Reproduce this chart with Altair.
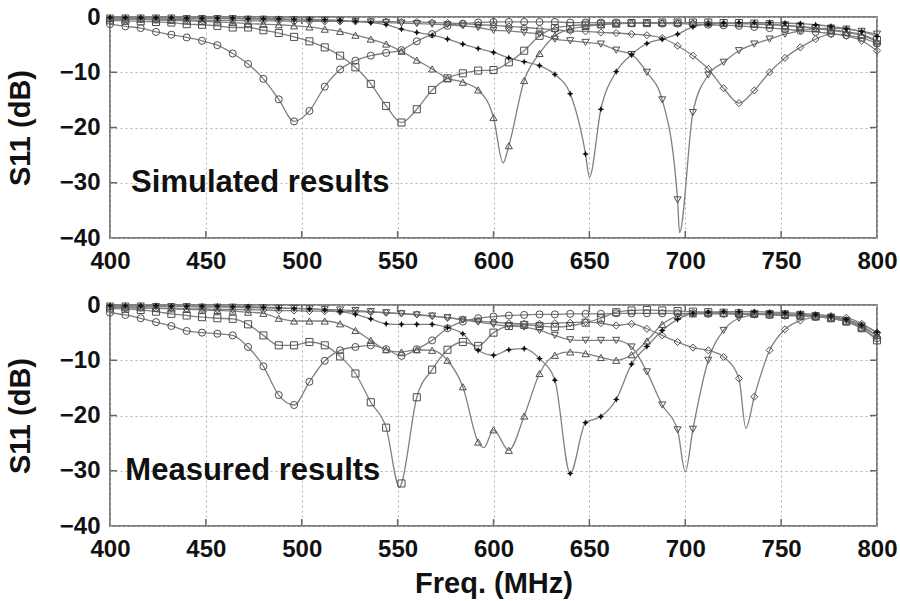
import altair as alt
import pandas as pd

# Marker frequencies (MHz)
FREQ = [400, 408, 416, 424, 432, 440, 448, 456, 464, 472,
        480, 488, 496, 504, 512, 520, 528, 536, 544, 552,
        560, 568, 576, 584, 592, 600, 608, 616, 624, 632,
        640, 648, 656, 664, 672, 680, 688, 696, 704, 712,
        720, 728, 736, 744, 752, 760, 768, 776, 784, 792, 800]

X_TICKS = [400, 450, 500, 550, 600, 650, 700, 750, 800]
Y_TICKS = [-40, -30, -20, -10, 0]

SERIES = ["circle", "square", "tri_up", "star", "tri_down", "diamond"]

# ---------- Simulated ----------
SIM_CIRCLE = [-1.3, -1.7, -2.0, -2.7, -3.2, -3.7, -4.3, -5.1, -6.6, -8.5,
              -11.2, -14.9, -18.9, -17.0, -12.6, -9.5, -7.9, -7.0, -6.5, -6.0,
              -4.4, -3.1, -1.6, -1.2, -1.0, -0.9, -0.9, -0.9, -0.9, -0.9,
              -1.0, -1.0, -1.0, -1.0, -1.1, -1.1, -1.2, -1.2, -1.3, -1.4,
              -1.5, -1.6, -1.8, -2.0, -2.2, -2.5, -2.7, -3.0, -3.3, -3.8, -4.8]
SIM_SQUARE = [-0.6, -0.7, -0.8, -0.9, -1.0, -1.3, -1.4, -1.6, -1.9, -1.9,
              -2.4, -2.9, -3.6, -4.4, -5.5, -7.0, -9.1, -12.1, -16.1, -19.1,
              -16.7, -13.2, -11.1, -10.2, -9.7, -9.6, -8.2, -6.1, -3.4, -2.0,
              -1.6, -1.4, -1.3, -1.2, -1.1, -1.1, -1.0, -1.0, -1.0, -1.0,
              -1.1, -1.1, -1.2, -1.3, -1.5, -1.7, -2.0, -2.3, -2.7, -3.2, -4.2]
SIM_TRI_UP = [-0.3, -0.4, -0.4, -0.5, -0.6, -0.7, -0.8, -0.9, -1.0, -1.2,
              -1.3, -1.4, -1.6, -1.8, -2.2, -2.6, -3.3, -4.0, -4.9, -6.2,
              -7.8, -9.4, -11.1, -11.8, -13.2, -18.2, -23.3, -11.5, -6.6, -3.4,
              -2.2, -1.7, -1.4, -1.2, -1.1, -1.0, -1.0, -1.0, -1.0, -1.0,
              -1.1, -1.2, -1.3, -1.4, -1.6, -1.8, -2.1, -2.4, -2.8, -3.3, -4.5]
SIM_STAR = [-0.1, -0.1, -0.1, -0.1, -0.1, -0.2, -0.2, -0.2, -0.2, -0.3,
            -0.3, -0.3, -0.4, -0.4, -0.5, -0.6, -0.8, -1.0, -1.4, -2.2,
            -2.8, -3.3, -4.0, -4.9, -5.7, -6.4, -7.4, -8.1, -8.8, -10.4,
            -13.9, -24.8, -16.7, -9.9, -6.8, -4.8, -4.0, -3.1, -1.8, -1.3,
            -1.1, -1.0, -1.0, -1.0, -1.1, -1.2, -1.4, -1.7, -2.1, -2.6, -3.5]
SIM_TRI_DOWN = [-0.2, -0.2, -0.2, -0.2, -0.2, -0.3, -0.3, -0.3, -0.3, -0.4,
                -0.4, -0.5, -0.5, -0.6, -0.6, -0.7, -0.8, -0.9, -1.0, -1.1,
                -1.2, -1.3, -1.4, -1.6, -1.9, -2.4, -2.5, -2.8, -3.1, -4.0,
                -4.3, -4.6, -4.9, -6.0, -6.8, -10.0, -15.0, -33.1, -17.3, -10.5,
                -8.2, -6.1, -4.9, -4.0, -3.1, -2.5, -2.1, -2.0, -2.2, -2.6, -3.1]
SIM_DIAMOND = [-0.4, -0.4, -0.4, -0.5, -0.5, -0.5, -0.6, -0.6, -0.6, -0.7,
               -0.7, -0.7, -0.8, -0.8, -0.8, -0.8, -0.8, -0.8, -0.8, -0.9,
               -0.9, -1.0, -1.1, -1.2, -1.4, -1.5, -1.7, -1.9, -2.1, -2.3,
               -2.5, -2.6, -2.8, -2.9, -3.1, -3.3, -3.8, -5.2, -7.0, -9.4,
               -12.9, -15.6, -13.3, -10.0, -7.4, -5.5, -4.0, -3.1, -3.4, -4.3, -6.1]
# resonance minima between markers (line only): series, freq, dB
SIM_DIPS = [("tri_up", 605, -26.4), ("star", 650, -29.0), ("tri_down", 697, -39.0)]

# ---------- Measured ----------
MEAS_CIRCLE = [-1.4, -1.8, -2.4, -3.1, -3.8, -4.7, -5.0, -5.2, -5.5, -7.6,
               -11.1, -16.3, -18.1, -13.9, -10.1, -8.2, -7.6, -7.3, -8.0, -9.2,
               -8.0, -6.4, -4.2, -3.0, -2.4, -2.1, -1.9, -1.8, -1.7, -1.7,
               -1.6, -1.6, -1.6, -1.5, -1.5, -1.5, -1.5, -1.5, -1.5, -1.6,
               -1.6, -1.7, -1.7, -1.8, -1.9, -2.0, -2.1, -2.4, -3.0, -4.2, -6.0]
MEAS_SQUARE = [-0.6, -0.7, -0.9, -1.2, -1.6, -1.9, -2.2, -2.4, -2.5, -3.5,
               -5.5, -7.3, -7.3, -6.7, -7.3, -9.3, -12.4, -17.6, -22.2, -32.3,
               -16.7, -11.7, -8.1, -6.7, -7.4, -5.0, -3.8, -3.6, -3.8, -4.0,
               -3.8, -3.2, -2.4, -1.3, -1.0, -0.9, -1.0, -1.1, -1.2, -1.3,
               -1.4, -1.5, -1.6, -1.7, -1.8, -1.9, -2.1, -2.4, -3.0, -4.2, -6.4]
MEAS_TRI_UP = [-0.3, -0.4, -0.5, -0.6, -0.7, -0.8, -0.9, -1.0, -1.1, -1.3,
               -1.5, -2.4, -2.9, -2.9, -2.9, -3.4, -4.6, -6.4, -8.1, -8.5,
               -8.1, -8.2, -10.0, -14.8, -24.8, -22.6, -26.3, -20.1, -12.4, -9.1,
               -8.5, -8.8, -9.5, -10.0, -9.0, -6.5, -3.5, -2.0, -1.6, -1.5,
               -1.5, -1.5, -1.5, -1.6, -1.7, -1.8, -2.0, -2.3, -2.9, -4.0, -5.5]
MEAS_STAR = [-0.1, -0.1, -0.1, -0.1, -0.2, -0.2, -0.2, -0.2, -0.3, -0.3,
             -0.4, -0.5, -0.6, -0.7, -0.9, -1.2, -1.7, -2.5, -3.4, -3.5,
             -3.5, -3.5, -4.1, -5.2, -8.2, -9.1, -8.1, -7.9, -9.7, -13.6,
             -30.5, -21.3, -20.2, -17.1, -10.7, -7.5, -4.6, -2.6, -1.5, -1.3,
             -1.2, -1.2, -1.2, -1.3, -1.4, -1.5, -1.7, -2.0, -2.6, -3.6, -4.9]
MEAS_TRI_DOWN = [-0.2, -0.2, -0.2, -0.3, -0.3, -0.3, -0.4, -0.4, -0.4, -0.5,
                 -0.5, -0.6, -0.6, -0.7, -0.8, -0.9, -1.0, -1.2, -1.4, -1.6,
                 -1.8, -2.0, -2.3, -2.7, -3.1, -3.5, -3.8, -4.0, -4.6, -5.5,
                 -6.3, -6.4, -6.4, -6.4, -7.6, -12.1, -18.1, -22.6, -22.5, -10.0,
                 -4.6, -2.4, -1.8, -1.6, -1.6, -1.7, -1.9, -2.2, -2.8, -3.8, -5.5]
MEAS_DIAMOND = [-0.4, -0.5, -0.5, -0.6, -0.6, -0.7, -0.7, -0.8, -0.8, -0.9,
                -0.9, -1.0, -1.0, -1.1, -1.1, -1.2, -1.2, -1.3, -1.4, -1.5,
                -1.7, -2.0, -2.3, -2.6, -2.9, -3.1, -3.3, -3.4, -3.4, -3.3,
                -3.2, -3.1, -3.3, -3.7, -3.4, -4.3, -5.5, -6.7, -7.7, -8.2,
                -9.4, -13.3, -16.6, -8.2, -4.4, -2.8, -2.2, -2.0, -2.3, -3.4, -5.0]
MEAS_DIPS = [("square", 551, -33.0), ("tri_up", 595, -25.8),
             ("tri_down", 700, -30.2), ("diamond", 731.6, -22.3)]

SIM_LABEL = "Simulated results"
SIM_LABEL_POS = (411, -30)
MEAS_LABEL = "Measured results"
MEAS_LABEL_POS = (408, -30)

STAR_PATH = "M0,-1L0.32,-0.32L1,0L0.32,0.32L0,1L-0.32,0.32L-1,0L-0.32,-0.32Z"
SHAPES = ["circle", "square", "triangle-up", STAR_PATH, "triangle-down", "diamond"]

W, H = 767, 221
FONT = "Liberation Sans"
LINE_COLOR = "#808080"
MARK_COLOR = "#4d4d4d"


def frames(arrays, dips):
    pts = []
    for name, vals in zip(SERIES, arrays):
        assert len(vals) == len(FREQ), name
        for f, v in zip(FREQ, vals):
            pts.append({"series": name, "f": f, "v": v})
    pts_df = pd.DataFrame(pts)
    extra = pd.DataFrame([{"series": s, "f": f, "v": v} for s, f, v in dips])
    line_df = pd.concat([pts_df, extra]).sort_values(["series", "f"]).reset_index(drop=True)
    return line_df, pts_df


def panel(arrays, dips, label, label_pos, show_title):
    line_df, pts_df = frames(arrays, dips)
    xscale = alt.Scale(domain=[400, 800], nice=False, zero=False)
    yscale = alt.Scale(domain=[-40, 0], nice=False, zero=False)
    xaxis = alt.Axis(values=X_TICKS, format="d", labelPadding=11, labelFlush=False,
                     titlePadding=8, titleFontSize=29)
    yaxis = alt.Axis(values=Y_TICKS, format="d", labelPadding=10, labelFlush=False,
                     titlePadding=23.5, titleFontSize=29)
    xtitle = "Freq. (MHz)" if show_title else None
    x = alt.X("f:Q", scale=xscale, axis=xaxis, title=xtitle)
    y = alt.Y("v:Q", scale=yscale, axis=yaxis, title="S11 (dB)")

    lines = alt.Chart(line_df).mark_line(
        interpolate="monotone", color=LINE_COLOR, strokeWidth=1.3
    ).encode(x=x, y=y, detail="series:N")

    open_pts = alt.Chart(pts_df).transform_filter(
        alt.datum.series != "star"
    ).mark_point(filled=False, size=50, strokeWidth=1, color=MARK_COLOR, opacity=1).encode(
        x=x, y=y,
        shape=alt.Shape("series:N", scale=alt.Scale(domain=SERIES, range=SHAPES), legend=None),
    )
    star_pts = alt.Chart(pts_df).transform_filter(
        alt.datum.series == "star"
    ).mark_point(filled=True, size=45, color="#111", opacity=1, shape=STAR_PATH).encode(x=x, y=y)

    txt = alt.Chart(pd.DataFrame({"f": [label_pos[0]], "v": [label_pos[1]], "t": [label]})).mark_text(
        align="left", baseline="middle", font=FONT, fontSize=31, fontWeight="bold", color="#111"
    ).encode(x=x, y=y, text="t:N")

    xt = pd.DataFrame({"f": X_TICKS[1:-1]})
    yt = pd.DataFrame({"v": Y_TICKS[1:-1]})
    tick_style = dict(color="#666", strokeWidth=1.5)
    tb = alt.Chart(xt).mark_rule(**tick_style).encode(x=x, y=alt.value(H), y2=alt.value(H - 7))
    tt = alt.Chart(xt).mark_rule(**tick_style).encode(x=x, y=alt.value(0), y2=alt.value(7))
    tl = alt.Chart(yt).mark_rule(**tick_style).encode(y=y, x=alt.value(0), x2=alt.value(7))
    tr = alt.Chart(yt).mark_rule(**tick_style).encode(y=y, x=alt.value(W), x2=alt.value(W - 7))

    return alt.layer(tb, tt, tl, tr, lines, open_pts, star_pts, txt).properties(width=W, height=H)


top = panel([SIM_CIRCLE, SIM_SQUARE, SIM_TRI_UP, SIM_STAR, SIM_TRI_DOWN, SIM_DIAMOND],
            SIM_DIPS, SIM_LABEL, SIM_LABEL_POS, False)
bottom = panel([MEAS_CIRCLE, MEAS_SQUARE, MEAS_TRI_UP, MEAS_STAR, MEAS_TRI_DOWN, MEAS_DIAMOND],
               MEAS_DIPS, MEAS_LABEL, MEAS_LABEL_POS, True)

chart = alt.vconcat(top, bottom, spacing=18).properties(
    padding={"left": 5, "top": 4, "right": 0, "bottom": 0}, background="white"
).configure_view(
    stroke="#808080", strokeWidth=2
).configure_axis(
    labelFont=FONT, labelFontWeight="bold", labelFontSize=24, labelColor="#111",
    titleFont=FONT, titleFontWeight="bold", titleColor="#111",
    ticks=False, domain=False, grid=True,
    gridColor="#b3b3b3", gridDash=[2, 3], gridWidth=1, gridOpacity=1,
)

chart.save("out.html", embed_options={"renderer": "svg", "actions": False})
